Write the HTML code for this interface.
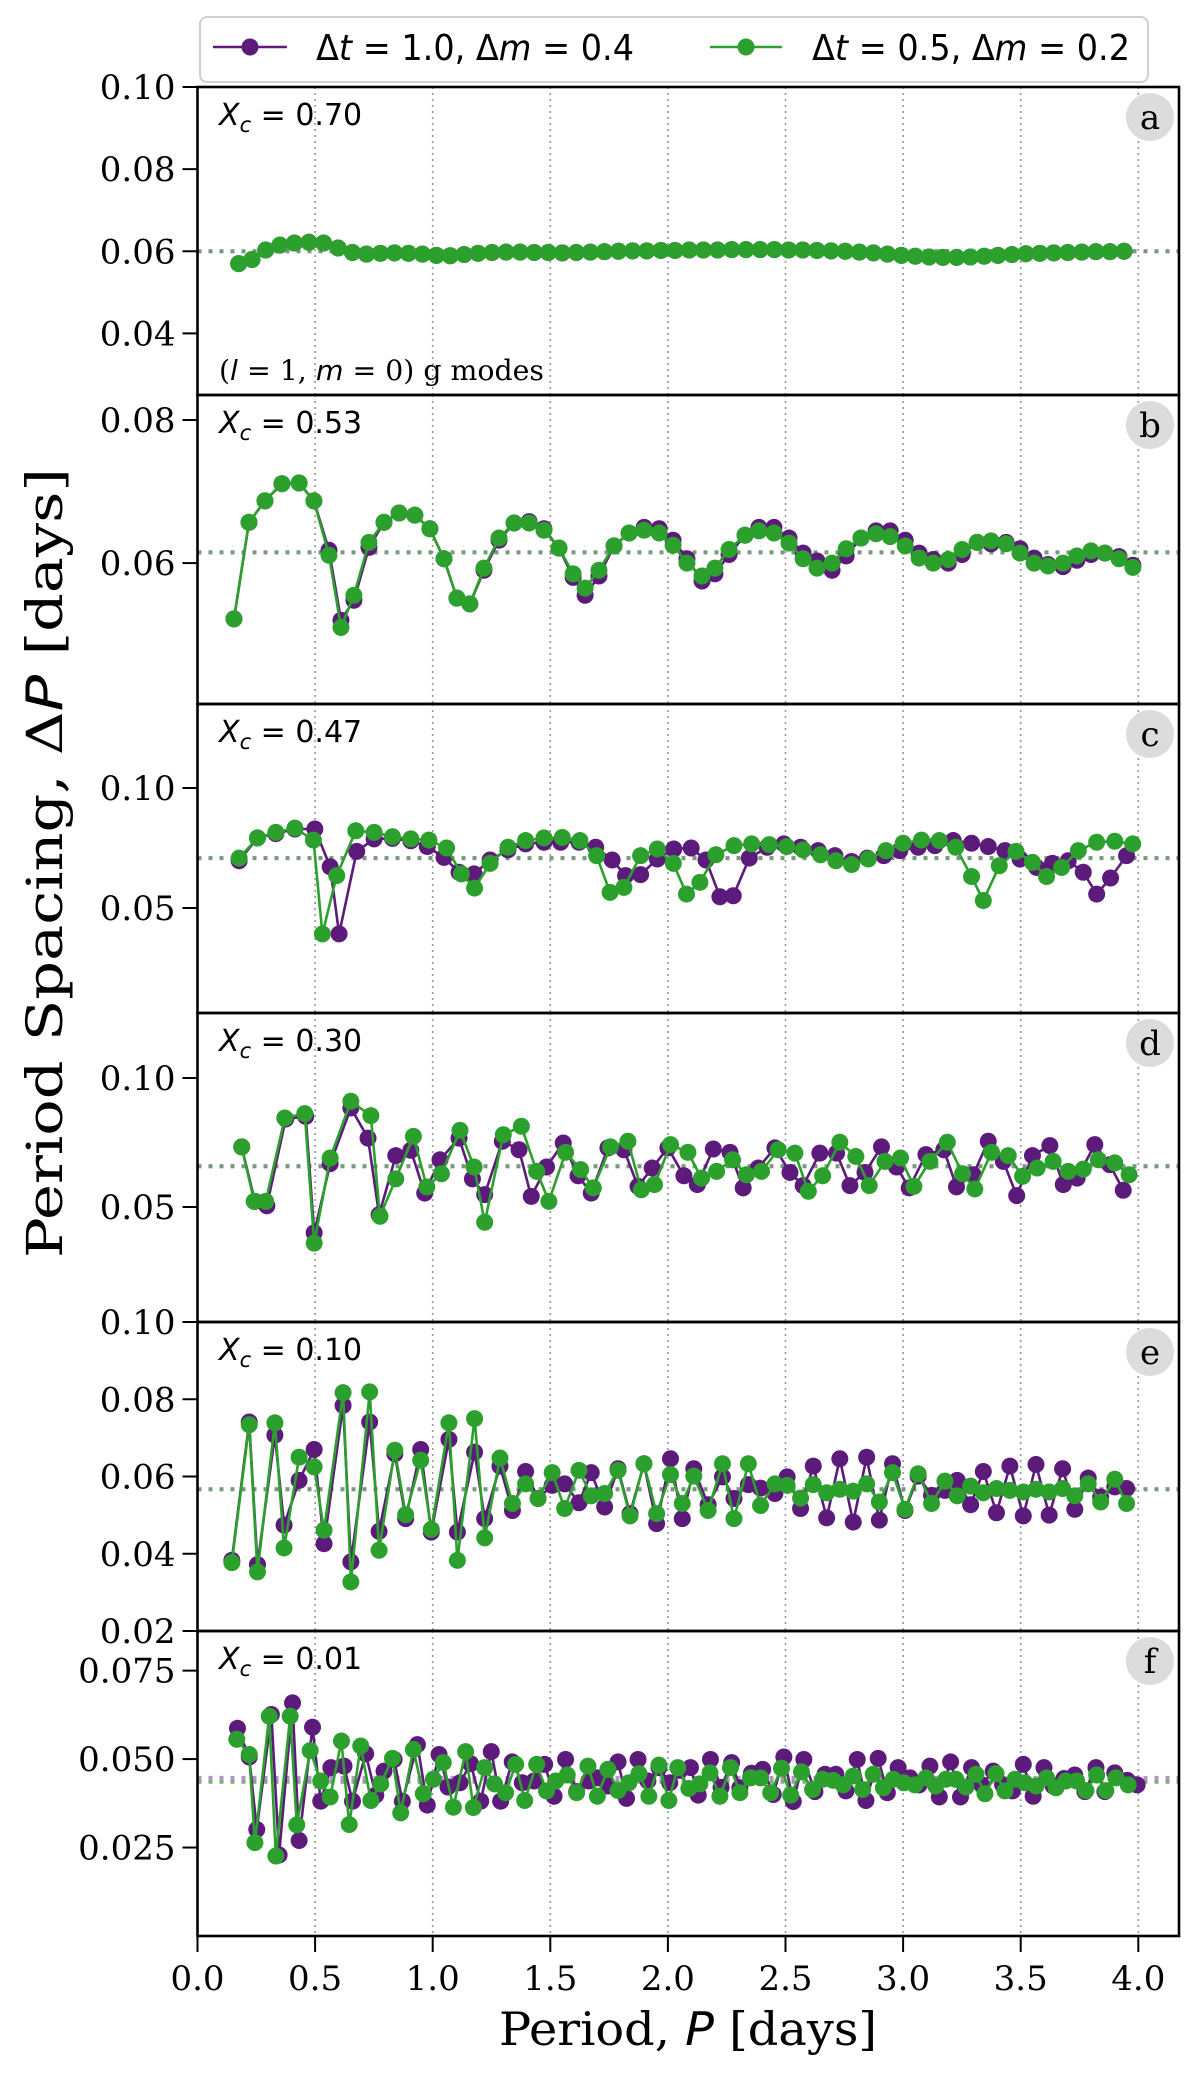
<!DOCTYPE html>
<html><head><meta charset="utf-8"><style>
html,body{margin:0;padding:0;background:#fff;}
svg{display:block;}
</style></head>
<body>
<svg id="fig" xmlns="http://www.w3.org/2000/svg" width="1200" height="2074" viewBox="0 0 1200 2074"></svg>
<script>
// ---------- data ----------
const valsA = [0.0570,0.0580,0.0603,0.0615,0.0620,0.0622,0.0620,0.0608,0.0597,0.0593,0.0595,0.0596,0.0595,0.0593,0.0590,0.0589,0.0592,0.0595,0.0597,0.0598,0.0598,0.0597,0.0597,0.0596,0.0597,0.0598,0.0599,0.0600,0.0601,0.0601,0.0602,0.0602,0.0603,0.0603,0.0603,0.0604,0.0604,0.0604,0.0604,0.0603,0.0603,0.0602,0.0601,0.0600,0.0598,0.0596,0.0593,0.0590,0.0588,0.0586,0.0585,0.0585,0.0586,0.0588,0.0590,0.0592,0.0594,0.0595,0.0596,0.0597,0.0598,0.0599,0.0599,0.0600];
const startA = 0.175;

const perB = [0.155,0.219,0.287,0.359,0.432,0.495,0.559,0.610,0.665,0.729,0.793,0.857,0.924,0.988,1.048,1.103,1.158,1.218,1.282,1.346,1.410,1.473,1.537,1.597,1.648,1.707,1.771,1.835,1.899,1.963,2.022,2.081,2.145,2.200,2.260,2.328,2.387,2.451,2.515,2.575,2.634,2.698,2.758,2.821,2.885,2.945,3.009,3.068,3.128,3.192,3.251,3.315,3.374,3.438,3.497,3.557,3.616,3.680,3.739,3.799,3.858,3.918,3.977];
const greenB = [0.0522,0.0657,0.0687,0.0711,0.0712,0.0687,0.0611,0.0510,0.0555,0.0629,0.0657,0.0670,0.0667,0.0648,0.0606,0.0551,0.0543,0.0593,0.0635,0.0656,0.0656,0.0646,0.0621,0.0585,0.0565,0.0590,0.0624,0.0642,0.0646,0.0642,0.0625,0.0600,0.0582,0.0593,0.0619,0.0639,0.0645,0.0642,0.0628,0.0606,0.0593,0.0600,0.0620,0.0635,0.0641,0.0637,0.0624,0.0607,0.0600,0.0605,0.0619,0.0629,0.0631,0.0627,0.0614,0.0600,0.0596,0.0600,0.0610,0.0617,0.0614,0.0606,0.0594];
const purpleB = [0.0522,0.0657,0.0687,0.0711,0.0712,0.0687,0.0618,0.0520,0.0548,0.0622,0.0657,0.0670,0.0667,0.0648,0.0606,0.0551,0.0543,0.0590,0.0632,0.0656,0.0658,0.0648,0.0621,0.0580,0.0555,0.0582,0.0624,0.0642,0.0650,0.0648,0.0632,0.0606,0.0575,0.0585,0.0612,0.0639,0.0650,0.0650,0.0635,0.0614,0.0603,0.0590,0.0610,0.0635,0.0645,0.0645,0.0632,0.0614,0.0605,0.0600,0.0612,0.0629,0.0627,0.0629,0.0620,0.0607,0.0598,0.0595,0.0604,0.0612,0.0614,0.0609,0.0597];

const perCg = [0.177,0.255,0.333,0.414,0.493,0.531,0.592,0.673,0.751,0.829,0.907,0.984,1.059,1.122,1.178,1.244,1.32,1.395,1.473,1.551,1.626,1.697,1.754,1.813,1.884,1.955,2.023,2.079,2.136,2.204,2.281,2.356,2.431,2.505,2.575,2.649,2.714,2.781,2.852,2.927,3.0,3.078,3.154,3.224,3.291,3.341,3.409,3.48,3.55,3.61,3.674,3.745,3.823,3.9,3.976];
const greenC = [0.0708,0.0792,0.0815,0.0833,0.0783,0.0392,0.0635,0.0822,0.0815,0.0797,0.0788,0.0783,0.075,0.0642,0.0583,0.0686,0.0753,0.0781,0.0792,0.0794,0.0781,0.0718,0.0565,0.0586,0.0718,0.0746,0.0686,0.0558,0.0607,0.0722,0.076,0.0767,0.0764,0.0756,0.0742,0.0722,0.0697,0.0681,0.0704,0.0739,0.077,0.0783,0.0781,0.0753,0.0631,0.0531,0.0676,0.0736,0.069,0.0631,0.0669,0.0739,0.0774,0.0778,0.0767];
const perCp = [0.177,0.255,0.333,0.414,0.499,0.564,0.602,0.677,0.751,0.829,0.907,0.977,1.048,1.112,1.176,1.244,1.32,1.395,1.473,1.544,1.622,1.693,1.763,1.82,1.884,1.955,2.025,2.099,2.162,2.221,2.278,2.346,2.422,2.493,2.564,2.639,2.71,2.781,2.848,2.918,2.986,3.064,3.135,3.213,3.291,3.362,3.433,3.497,3.568,3.635,3.702,3.766,3.823,3.882,3.95];
const purpleC = [0.0697,0.0792,0.081,0.0829,0.0829,0.0672,0.0392,0.0736,0.0788,0.079,0.078,0.0756,0.0711,0.0649,0.0642,0.0700,0.0742,0.0767,0.0774,0.0774,0.0774,0.0753,0.0700,0.0635,0.0639,0.0704,0.0746,0.075,0.070,0.0547,0.0551,0.0708,0.0753,0.0767,0.0753,0.0739,0.0718,0.0694,0.0708,0.0718,0.0739,0.0753,0.076,0.0781,0.077,0.0756,0.0739,0.0704,0.0669,0.0686,0.0697,0.0649,0.0558,0.0625,0.0718];

const perDg = [0.188,0.241,0.29,0.371,0.456,0.496,0.564,0.652,0.737,0.776,0.843,0.918,0.975,1.037,1.116,1.176,1.221,1.30,1.377,1.442,1.494,1.565,1.629,1.683,1.756,1.83,1.887,1.943,2.011,2.085,2.143,2.207,2.275,2.334,2.398,2.469,2.54,2.597,2.658,2.731,2.799,2.856,2.923,2.989,3.046,3.114,3.188,3.253,3.305,3.376,3.447,3.508,3.57,3.638,3.702,3.766,3.83,3.9,3.961];
const greenD = [0.0733,0.0522,0.0522,0.0845,0.0862,0.036,0.069,0.091,0.0854,0.0464,0.0609,0.0774,0.0578,0.0629,0.0797,0.0655,0.0441,0.078,0.0813,0.0638,0.0522,0.0712,0.0645,0.0574,0.0733,0.0755,0.0567,0.0587,0.0742,0.0712,0.0612,0.0638,0.0683,0.0625,0.0638,0.0722,0.0709,0.0561,0.0621,0.0751,0.0696,0.0583,0.0677,0.069,0.058,0.0677,0.0751,0.0629,0.057,0.0712,0.0699,0.0619,0.0651,0.0677,0.0638,0.0647,0.0683,0.0671,0.0625];
const perDp = [0.188,0.244,0.295,0.375,0.46,0.496,0.564,0.652,0.725,0.772,0.843,0.907,0.966,1.031,1.112,1.169,1.221,1.296,1.367,1.419,1.484,1.555,1.618,1.674,1.745,1.813,1.873,1.933,2.0,2.068,2.125,2.193,2.264,2.32,2.384,2.455,2.519,2.575,2.646,2.717,2.774,2.838,2.908,2.972,3.026,3.097,3.173,3.227,3.298,3.362,3.426,3.483,3.55,3.624,3.681,3.74,3.815,3.879,3.936];
const purpleD = [0.0733,0.0522,0.0505,0.0841,0.0851,0.040,0.0668,0.0884,0.0767,0.047,0.0699,0.072,0.0554,0.0683,0.0767,0.0609,0.0548,0.0755,0.0722,0.0541,0.0655,0.0748,0.0621,0.0554,0.0729,0.0722,0.058,0.0651,0.0729,0.0621,0.0587,0.0725,0.0712,0.0574,0.0651,0.0729,0.0634,0.0583,0.0709,0.0709,0.0583,0.0634,0.0733,0.0655,0.0574,0.0703,0.0722,0.0578,0.0625,0.0755,0.0677,0.0544,0.0699,0.0738,0.0587,0.0612,0.0742,0.0664,0.0565];

const perE = [0.146,0.22,0.255,0.329,0.368,0.432,0.496,0.538,0.619,0.652,0.732,0.772,0.839,0.885,0.949,0.994,1.069,1.105,1.178,1.221,1.286,1.339,1.395,1.448,1.508,1.561,1.622,1.674,1.731,1.788,1.839,1.898,1.952,2.011,2.061,2.11,2.171,2.232,2.281,2.342,2.394,2.455,2.507,2.564,2.618,2.675,2.731,2.788,2.845,2.899,2.955,3.008,3.064,3.121,3.178,3.23,3.287,3.341,3.397,3.454,3.511,3.565,3.621,3.678,3.73,3.787,3.84,3.9,3.95];
const greenE = [0.0377,0.0734,0.0353,0.0739,0.0415,0.065,0.0625,0.0461,0.0817,0.0327,0.0819,0.0409,0.0668,0.0501,0.0642,0.0463,0.0739,0.0383,0.075,0.0441,0.0648,0.053,0.0581,0.0543,0.061,0.0517,0.0616,0.055,0.0556,0.0616,0.0498,0.0633,0.0504,0.0605,0.053,0.0601,0.0512,0.0633,0.0491,0.0633,0.0525,0.0581,0.0577,0.0544,0.0579,0.0558,0.0567,0.0562,0.0581,0.0534,0.061,0.0515,0.0607,0.053,0.0588,0.055,0.0575,0.0558,0.0569,0.0564,0.056,0.0567,0.056,0.0569,0.055,0.0581,0.0534,0.0593,0.053];
const purpleE = [0.0383,0.0741,0.0372,0.0707,0.0474,0.059,0.067,0.0426,0.0784,0.0379,0.0741,0.0458,0.0659,0.0491,0.067,0.0456,0.0696,0.0456,0.0663,0.0491,0.0627,0.0512,0.0613,0.0543,0.0577,0.0581,0.0532,0.061,0.0521,0.062,0.0504,0.0633,0.0478,0.0646,0.0491,0.062,0.0527,0.0599,0.0543,0.0579,0.057,0.0556,0.0599,0.0517,0.0627,0.0493,0.0646,0.0482,0.065,0.0487,0.0633,0.0512,0.0601,0.0551,0.0564,0.059,0.0527,0.0613,0.0506,0.0627,0.0498,0.0631,0.05,0.062,0.0515,0.0596,0.0547,0.0573,0.0569];

const perFg = [0.167,0.22,0.244,0.305,0.333,0.394,0.422,0.479,0.524,0.564,0.612,0.645,0.694,0.737,0.779,0.829,0.864,0.918,0.96,1.003,1.045,1.088,1.14,1.173,1.221,1.263,1.31,1.353,1.391,1.442,1.484,1.523,1.572,1.612,1.66,1.7,1.745,1.788,1.834,1.877,1.919,1.962,2.004,2.042,2.089,2.136,2.179,2.221,2.266,2.306,2.351,2.394,2.437,2.483,2.522,2.568,2.615,2.658,2.703,2.745,2.788,2.828,2.873,2.916,2.958,3.003,3.05,3.097,3.139,3.182,3.224,3.267,3.31,3.348,3.395,3.433,3.476,3.518,3.565,3.61,3.65,3.692,3.738,3.777,3.823,3.862,3.905,3.957];
const greenF = [0.0556,0.0513,0.0264,0.0621,0.0226,0.0621,0.0314,0.0524,0.0438,0.0393,0.0551,0.0315,0.0537,0.0383,0.043,0.0502,0.0348,0.0527,0.0402,0.0443,0.049,0.0364,0.0521,0.0363,0.0476,0.043,0.0405,0.0485,0.0383,0.0485,0.041,0.0438,0.0455,0.0405,0.048,0.0395,0.0471,0.0411,0.0433,0.0459,0.0395,0.0483,0.0383,0.0476,0.0417,0.043,0.0461,0.0395,0.0476,0.0405,0.0447,0.0447,0.0405,0.0474,0.0398,0.0464,0.0414,0.0443,0.044,0.0427,0.0452,0.0414,0.0457,0.0419,0.0443,0.0433,0.0427,0.0447,0.0424,0.0443,0.0443,0.0421,0.0457,0.0402,0.0459,0.041,0.0443,0.0433,0.0424,0.0447,0.0419,0.0438,0.0438,0.0411,0.0455,0.0411,0.0447,0.0427];
const perFp = [0.17,0.22,0.252,0.314,0.347,0.404,0.432,0.489,0.524,0.567,0.623,0.659,0.715,0.758,0.793,0.836,0.871,0.935,0.977,1.027,1.065,1.116,1.161,1.204,1.249,1.289,1.338,1.381,1.431,1.476,1.516,1.565,1.612,1.664,1.7,1.745,1.788,1.824,1.873,1.915,1.962,2.008,2.051,2.096,2.129,2.181,2.226,2.271,2.306,2.355,2.403,2.448,2.493,2.533,2.578,2.625,2.668,2.714,2.757,2.805,2.842,2.894,2.933,2.979,3.029,3.068,3.114,3.154,3.202,3.244,3.291,3.334,3.383,3.423,3.465,3.511,3.553,3.599,3.638,3.684,3.73,3.773,3.82,3.858,3.9,3.953,3.995];
const purpleF = [0.0587,0.0506,0.0301,0.0626,0.0229,0.0659,0.027,0.059,0.0381,0.0476,0.048,0.0381,0.0515,0.0398,0.0466,0.0499,0.0381,0.0541,0.037,0.0513,0.0421,0.0433,0.0487,0.0381,0.0521,0.0381,0.0492,0.0433,0.0438,0.0485,0.0395,0.0499,0.0408,0.0438,0.0447,0.0424,0.0492,0.0389,0.0499,0.0438,0.0476,0.0433,0.0468,0.0476,0.0398,0.0499,0.042,0.049,0.0419,0.046,0.0471,0.04,0.0506,0.038,0.0499,0.0408,0.0457,0.0457,0.041,0.0499,0.0383,0.0502,0.0405,0.0476,0.0447,0.0427,0.048,0.0393,0.0492,0.0393,0.0476,0.0427,0.0466,0.0428,0.041,0.0485,0.0395,0.0476,0.0424,0.0445,0.0455,0.0408,0.0476,0.0408,0.0461,0.044,0.0427];

const meanPurple = [0.0600,0.0615,0.0708,0.0658,0.0567,0.0447];
const meanGreen  = [0.0600,0.0615,0.0708,0.0658,0.0567,0.0436];
const xcLabels = ["0.70","0.53","0.47","0.30","0.10","0.01"];
const panelLetters = ["a","b","c","d","e","f"];
const yTicks = [[0.04,0.06,0.08,0.10],[0.06,0.08],[0.05,0.10],[0.05,0.10],[0.02,0.04,0.06,0.08,0.10],[0.025,0.050,0.075]];
const yTickLabels = [["0.04","0.06","0.08","0.10"],["0.06","0.08"],["0.05","0.10"],["0.05","0.10"],["0.02","0.04","0.06","0.08","0.10"],["0.025","0.050","0.075"]];
const yRanges = [[0.025,0.10],[0.0403,0.0835],[0.00625,0.135],[0.00543,0.1252],[0.02,0.10],[0.0,0.0862]];
const xTicks = [0,0.5,1.0,1.5,2.0,2.5,3.0,3.5,4.0];
const xTickLabels = ["0.0","0.5","1.0","1.5","2.0","2.5","3.0","3.5","4.0"];

// periods for panel a from cumulative spacing
const perA = [startA];
for (let i = 1; i < valsA.length; i++) perA.push(perA[i-1] + valsA[i-1]);

const seriesP = [[perA,valsA],[perB,purpleB],[perCp,purpleC],[perDp,purpleD],[perE,purpleE],[perFp,purpleF]];
const seriesG = [[perA,valsA],[perB,greenB],[perCg,greenC],[perDg,greenD],[perE,greenE],[perFg,greenF]];

// ---------- layout ----------
const NS = "http://www.w3.org/2000/svg";
const svg = document.getElementById("fig");
const L = 197.5, R = 1179, XMAX = (R - L) / 235.2;
const tops = [87, 395, 704, 1013, 1322, 1631, 1936];
const PURPLE = "#5c1a7b", GREEN = "#2ca02c";
const SERIF = '"DejaVu Serif","Liberation Serif",serif';
const SANS = '"DejaVu Sans","Liberation Sans",sans-serif';
function xs(p){ return L + p / XMAX * (R - L); }
function mk(tag, attrs, parent){ const e = document.createElementNS(NS, tag); for (const k in attrs) e.setAttribute(k, attrs[k]); (parent||svg).appendChild(e); return e; }

for (let k = 0; k < 6; k++) {
  const top = tops[k], bot = tops[k+1];
  const [y0, y1] = yRanges[k];
  const ys = v => bot - (v - y0) / (y1 - y0) * (bot - top);
  const g = mk("g", {});
  
  
  // gridlines
  xTicks.forEach(t => { if (t === 0) return;
    const l = mk("line", {x1: xs(t), x2: xs(t), y1: top, y2: bot, stroke: "#999", "stroke-width": 1.6, "stroke-dasharray": "2,4"}, g);
    
    
  });
  // mean lines
  const mp = mk("line", {x1: L, x2: R, y1: ys(meanPurple[k]), y2: ys(meanPurple[k]), stroke: "#a27cc0", "stroke-width": 4, "stroke-dasharray": "4,7", opacity: 0.8}, g);
  
  
  const mg = mk("line", {x1: L, x2: R, y1: ys(meanGreen[k]), y2: ys(meanGreen[k]), stroke: "#6f9a6f", "stroke-width": 4, "stroke-dasharray": "4,7", opacity: 0.85}, g);
  
  
  // series
  [[seriesP[k], PURPLE, "purple"], [seriesG[k], GREEN, "green"]].forEach(([s, col, nm]) => {
    const [pp, vv] = s;
    const pts = pp.map((p, i) => xs(p).toFixed(1) + "," + ys(vv[i]).toFixed(1)).join(" ");
    const pl = mk("polyline", {points: pts, fill: "none", stroke: col, "stroke-width": 2.6}, g);
    
    
    pp.forEach((p, i) => {
      const c = mk("circle", {cx: xs(p), cy: ys(vv[i]), r: 8.5, fill: col}, g);
      
      
    });
  });
  // frame
  const fr = mk("rect", {x: L, y: top, width: R - L, height: bot - top, fill: "none", stroke: "#000", "stroke-width": 2.6}, g);
  
  
  // y ticks
  yTicks[k].forEach((t, i) => {
    const y = ys(t);
    const tl = mk("line", {x1: L - 15, x2: L, y1: y, y2: y, stroke: "#000", "stroke-width": 2}, g);
    
    
    const tx = mk("text", {x: L - 22, y: y + 12, "text-anchor": "end", "font-family": SERIF, "font-size": 34, fill: "#000"}, g);
    tx.textContent = yTickLabels[k][i];
    
    
  });
  // Xc label
  const xc = mk("text", {x: 219, y: top + 38, "font-family": SANS, "font-size": 30, fill: "#000"}, g);
  xc.innerHTML = '<tspan font-style="italic">X</tspan><tspan font-style="italic" font-size="21" dy="7">c</tspan><tspan dy="-7"> =  ' + xcLabels[k] + '</tspan>';
  
  
  // letter badge
  const bc = mk("circle", {cx: 1150, cy: top + 30, r: 24, fill: "#dcdcdc"}, g);
  
  
  const bt = mk("text", {x: 1150, y: top + 42, "text-anchor": "middle", "font-family": SERIF, "font-size": 34, fill: "#000"}, g);
  bt.textContent = panelLetters[k];
  
  
}

// x ticks
xTicks.forEach((t, i) => {
  const tl = mk("line", {x1: xs(t), x2: xs(t), y1: 1936, y2: 1952, stroke: "#000", "stroke-width": 2});
  
  
  const tx = mk("text", {x: xs(t), y: 1990, "text-anchor": "middle", "font-family": SERIF, "font-size": 34, fill: "#000"});
  tx.textContent = xTickLabels[i];
  
  
});

// mode annotation
const ann = mk("text", {x: 219, y: 380, "font-family": SERIF, "font-size": 28, fill: "#000", textLength: 325, lengthAdjust: "spacingAndGlyphs"});
ann.innerHTML = '(<tspan font-style="italic" font-family=\'"DejaVu Sans",sans-serif\'>l</tspan> = 1, <tspan font-style="italic" font-family=\'"DejaVu Sans",sans-serif\'>m</tspan> = 0) g modes';



// axis labels
const xl = mk("text", {x: 688, y: 2045, "text-anchor": "middle", "font-family": SERIF, "font-size": 46, fill: "#000", textLength: 378, lengthAdjust: "spacingAndGlyphs"});
xl.innerHTML = 'Period, <tspan font-style="italic" font-family=\'"DejaVu Sans",sans-serif\'>P</tspan> [days]';


const yl = mk("text", {x: 0, y: 0, "text-anchor": "middle", "font-family": SERIF, "font-size": 50, fill: "#000", textLength: 790, lengthAdjust: "spacingAndGlyphs", transform: "translate(62,863) rotate(-90)"});
yl.innerHTML = 'Period Spacing, Δ<tspan font-style="italic" font-family=\'"DejaVu Sans",sans-serif\'>P</tspan> [days]';



// legend
const lg = mk("g", {});


const lb = mk("rect", {x: 200, y: 17, width: 948, height: 65, rx: 7, fill: "#fff", stroke: "#d0d0d0", "stroke-width": 2}, lg);


[[213, 287, 316, PURPLE, "1.0", "0.4", "legend-entry-purple"], [710, 782, 812, GREEN, "0.5", "0.2", "legend-entry-green"]].forEach(([a, b, tx0, col, dt, dm, nm]) => {
  const le = mk("g", {}, lg);
  
  
  mk("line", {x1: a, x2: b, y1: 47, y2: 47, stroke: col, "stroke-width": 2.6}, le);
  mk("circle", {cx: (a + b) / 2, cy: 47, r: 8.5, fill: col}, le);
  const t = mk("text", {x: tx0, y: 60, "font-family": SANS, "font-size": 36, fill: "#000", textLength: 318, lengthAdjust: "spacingAndGlyphs"}, le);
  t.innerHTML = 'Δ<tspan font-style="italic">t</tspan> = ' + dt + ', Δ<tspan font-style="italic">m</tspan> = ' + dm;
});
</script>
</body></html>
